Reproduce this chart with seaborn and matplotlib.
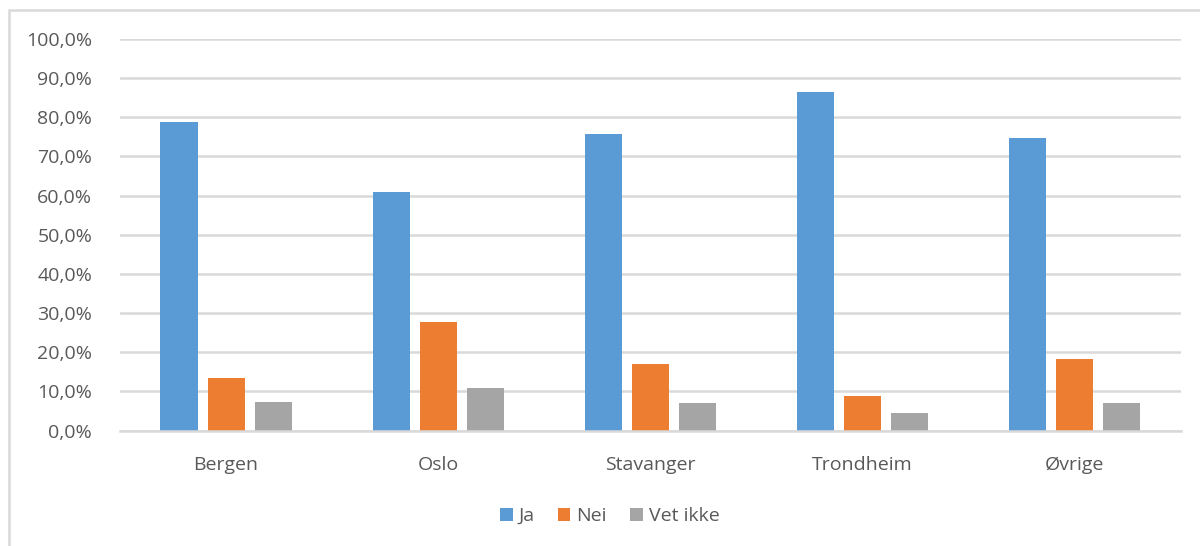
import matplotlib
matplotlib.use("Agg")
import matplotlib.pyplot as plt
from matplotlib.patches import Rectangle, Patch
from matplotlib.ticker import FuncFormatter, MultipleLocator
import seaborn as sns
import pandas as pd

# Survey answers by city (share of respondents, %)
cities = ["Bergen", "Oslo", "Stavanger", "Trondheim", "Øvrige"]
answers = ["Ja", "Nei", "Vet ikke"]
ja = [78.9, 61.0, 75.8, 86.5, 74.6]
nei = [13.4, 27.7, 16.9, 8.7, 18.2]
vet_ikke = [7.4, 10.9, 7.0, 4.6, 7.0]
colors = ["#5B9BD5", "#ED7D31", "#A5A5A5"]

rows = []
for answer, values in zip(answers, [ja, nei, vet_ikke]):
    for city, v in zip(cities, values):
        rows.append({"By": city, "Svar": answer, "Andel": v})
df = pd.DataFrame(rows)

sns.set_theme(style="white")
plt.rcParams["font.family"] = ["Open Sans", "DejaVu Sans"]
text_color = "#595959"
grid_color = "#D9D9D9"
fs = 14

fig = plt.figure(figsize=(12, 5.46), dpi=100)
ax = fig.add_axes([0.1, 0.2115, 0.884, 0.717])

sns.barplot(data=df, x="By", y="Andel", hue="Svar", order=cities,
            hue_order=answers, palette=colors, width=0.665, gap=0.21,
            saturation=1, ax=ax, legend=False, linewidth=0)

ax.set_ylim(0, 100)
ax.yaxis.set_major_locator(MultipleLocator(10))
ax.yaxis.set_major_formatter(
    FuncFormatter(lambda v, _: f"{v:.1f}%".replace(".", ",")))
ax.set_xlim(-0.5, len(cities) - 0.5)
ax.grid(axis="y", color=grid_color, linewidth=1.8)
ax.set_axisbelow(True)
for side in ["left", "right", "top"]:
    ax.spines[side].set_visible(False)
ax.spines["bottom"].set_color(grid_color)
ax.spines["bottom"].set_linewidth(1.8)
ax.set_xlabel("")
ax.set_ylabel("")
ax.tick_params(axis="y", length=0, pad=20, labelsize=fs, labelcolor=text_color)
ax.tick_params(axis="x", length=0, pad=18, labelsize=fs, labelcolor=text_color)

handles = [Patch(facecolor=c, edgecolor="none") for c in colors]
fig.legend(handles, answers, loc="center", bbox_to_anchor=(0.508, 0.055),
           ncol=3, frameon=False, fontsize=fs, labelcolor=text_color,
           handlelength=0.65, handleheight=0.65, handletextpad=0.3,
           columnspacing=1.2)

# Chart frame
fig.patches.append(Rectangle((9 / 1200, -0.05), 1.1, 0.05 + (1 - 10 / 546),
                             transform=fig.transFigure, fill=False,
                             edgecolor=grid_color, linewidth=1.8))

fig.savefig("out.png", dpi=100, facecolor="white")
